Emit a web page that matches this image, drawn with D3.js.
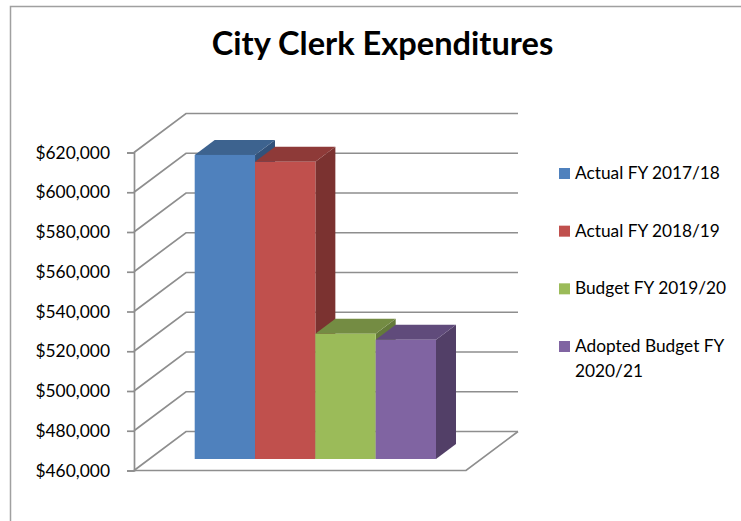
<!DOCTYPE html>
<html>
<head>
<meta charset="utf-8">
<script src="https://cdn.jsdelivr.net/npm/d3@7"></script>
<style>
html, body { margin: 0; padding: 0; background: #fff; }
svg { display: block; }
text { font-family: Lato, "Open Sans", sans-serif; fill: #000; }
</style>
</head>
<body>
<svg id="chart" width="741" height="521"></svg>
<script>
// City Clerk budget figures
const seriesNames = ["Actual FY 2017/18", "Actual FY 2018/19", "Budget FY 2019/20", "Adopted Budget FY 2020/21"];
const seriesValues = [613000, 609500, 523000, 520000];
const tickValues = [460000, 480000, 500000, 520000, 540000, 560000, 580000, 600000, 620000];
const frontColors = ["#4f81bd", "#c0504d", "#9bbb59", "#8064a2"];
const topColors = ["#3d638f", "#8e3a38", "#748c43", "#604b7b"];
const sideColors = ["#32527a", "#7b3230", "#647a3a", "#523f67"];
const chartTitle = "City Clerk Expenditures";

const svg = d3.select("#chart");
const lineColor = "#8e8e8e";

// Projection of the 3D box: the wall sits behind the axis plane by wall offset,
// and the columns stand partway into the floor with their own depth.
const plot = { left: 134, right: 466, top: 152.5, bottom: 470.5 };
const wall = { dx: 52, dy: 39 };
const inset = { dx: 15, dy: 11.5 };
const depth = { dx: 20, dy: 15 };

const y = d3.scaleLinear().domain(d3.extent(tickValues)).range([plot.bottom, plot.top]);
const x = d3.scaleBand().domain(seriesNames).range([194.7, 436]);

// Outer frame (left and top edges only)
svg.append("path")
  .attr("d", "M10.5,521V6.5H741")
  .attr("fill", "none").attr("stroke", "#a0a0a0").attr("stroke-width", 1.5);

svg.append("text")
  .attr("x", 382.5).attr("y", 55)
  .attr("text-anchor", "middle")
  .attr("font-size", 32.6).attr("font-weight", 700)
  .text(chartTitle);

// Wall gridlines and their diagonal returns to the axis
const grid = svg.append("g").attr("fill", "none").attr("stroke", lineColor).attr("stroke-width", 1.7);
grid.selectAll("path.grid").data(tickValues).join("path")
  .attr("class", "grid")
  .attr("d", d => {
    const py = y(d);
    return `M${plot.left},${py}L${plot.left + wall.dx},${py - wall.dy}H${plot.right + wall.dx}`;
  });

// Floor outline
grid.append("path")
  .attr("d", `M${plot.left},${plot.bottom}H${plot.right}L${plot.right + wall.dx},${plot.bottom - wall.dy}`);

// Value axis: the vertical rule, outward ticks and currency labels
const axis = d3.axisLeft(y)
  .tickValues(tickValues)
  .tickSize(7)
  .tickPadding(17)
  .tickFormat(d => "$" + d3.format(",")(d));

const axisG = svg.append("g")
  .attr("transform", `translate(${plot.left},0)`)
  .call(axis);
axisG.selectAll("path.domain").attr("stroke", lineColor).attr("stroke-width", 1.7);
axisG.selectAll(".tick line").attr("stroke", lineColor).attr("stroke-width", 1.7);
axisG.selectAll(".tick text")
  .attr("font-size", 17.4)
  .attr("font-family", "Lato, 'Open Sans', sans-serif")
  .attr("fill", "#000");

// Columns, left to right so that each covers the side of the one before it
const floorY = y(tickValues[0]) - inset.dy;
const baseY = v => y(v) - inset.dy;
const cols = svg.append("g").selectAll("g").data(seriesNames).join("g");

cols.append("path")
  .attr("fill", (d, i) => sideColors[i])
  .attr("d", (d, i) => {
    const r = x(d) + x.bandwidth(), t = baseY(seriesValues[i]);
    return `M${r},${t}l${depth.dx},${-depth.dy}V${floorY - depth.dy}l${-depth.dx},${depth.dy}Z`;
  });
cols.append("path")
  .attr("fill", (d, i) => topColors[i])
  .attr("d", (d, i) => {
    const l = x(d), t = baseY(seriesValues[i]);
    return `M${l},${t}l${depth.dx},${-depth.dy}h${x.bandwidth()}l${-depth.dx},${depth.dy}Z`;
  });
cols.append("rect")
  .attr("fill", (d, i) => frontColors[i])
  .attr("x", d => x(d))
  .attr("width", x.bandwidth())
  .attr("y", (d, i) => baseY(seriesValues[i]))
  .attr("height", (d, i) => floorY - baseY(seriesValues[i]));

// Legend with wrapped labels
const legendY = d3.scalePoint().domain(seriesNames).range([168, 341]);
const legend = svg.append("g").selectAll("g").data(seriesNames).join("g")
  .attr("transform", d => `translate(559,${legendY(d)})`);
legend.append("rect")
  .attr("width", 11).attr("height", 11)
  .attr("fill", (d, i) => frontColors[i]);
legend.append("text")
  .attr("font-size", 17.3)
  .each(function (d) {
    const node = d3.select(this);
    let line = [], row = 0;
    let span = node.append("tspan").attr("x", 16).attr("y", 11);
    d.split(" ").forEach(word => {
      line.push(word);
      span.text(line.join(" "));
      if (span.node().getComputedTextLength() > 165) {
        line.pop();
        span.text(line.join(" "));
        line = [word];
        row += 1;
        span = node.append("tspan").attr("x", 16).attr("y", 11 + row * 25).text(word);
      }
    });
  });
</script>
</body>
</html>
